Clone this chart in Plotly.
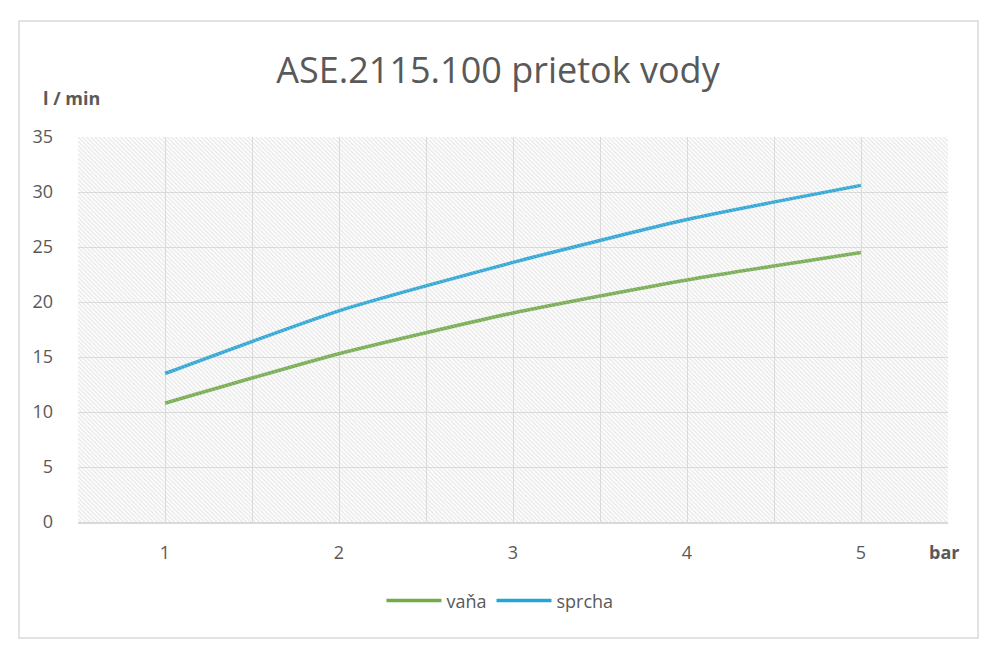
import plotly.graph_objects as go

# data
pressure = [1, 2, 3, 4, 5]           # bar
vana = [10.8, 15.3, 19.0, 22.0, 24.5]    # l / min
sprcha = [13.5, 19.2, 23.6, 27.5, 30.6]  # l / min

title_text = "ASE.2115.100 prietok vody"
y_title = "l / min"
x_title = "bar"

font_name = "Open Sans"
text_grey = "#595959"
grid_grey = "#dedede"

fig = go.Figure()

# hatched plot-area background (Excel pattern fill), on a hidden 0..1 axis pair
fig.add_trace(go.Scatter(
    x=[0, 1, 1, 0, 0], y=[0, 0, 1, 1, 0],
    xaxis="x2", yaxis="y2",
    mode="lines", line=dict(width=0),
    fill="toself", fillcolor="rgba(0,0,0,0)",
    fillpattern=dict(shape="\\", fgcolor="#cccccc", bgcolor="rgba(0,0,0,0)",
                     size=3, solidity=0.4),
    hoverinfo="skip", showlegend=False,
))

fig.add_trace(go.Scatter(
    x=pressure, y=vana, name="vaňa", mode="lines",
    line=dict(color="#70AD47", width=3.5, shape="spline", smoothing=0.6),
))
fig.add_trace(go.Scatter(
    x=pressure, y=sprcha, name="sprcha", mode="lines",
    line=dict(color="#21A6DA", width=3.5, shape="spline", smoothing=0.6),
))

fig.update_layout(
    width=1000, height=658,
    margin=dict(l=78, r=52, t=137, b=136),
    paper_bgcolor="white", plot_bgcolor="white",
    font=dict(family=font_name, color=text_grey, size=18),
    title=dict(text=title_text, x=0.498, xanchor="center",
               y=1 - 70 / 658, yanchor="middle",
               font=dict(size=36, color=text_grey)),
    xaxis=dict(
        range=[0.5, 5.5], tickvals=pressure, showgrid=True, gridcolor=grid_grey,
        minor=dict(tick0=0.5, dtick=1, showgrid=True, gridcolor=grid_grey),
        showline=True, linecolor="#d9d9d9", linewidth=1.5,
        zeroline=False, ticks="", ticklabelstandoff=14,
        tickfont=dict(size=18, color=text_grey),
    ),
    yaxis=dict(
        range=[0, 35], dtick=5, showgrid=True, gridcolor=grid_grey,
        zeroline=False, ticks="", ticklabelstandoff=24,
        tickfont=dict(size=18, color=text_grey),
    ),
    xaxis2=dict(range=[0, 1], overlaying="x", visible=False, fixedrange=True),
    yaxis2=dict(range=[0, 1], overlaying="y", visible=False, fixedrange=True),
    legend=dict(orientation="h", x=0.485, xanchor="center", y=-0.205,
                yanchor="middle", itemwidth=55,
                font=dict(size=18, color=text_grey)),
    showlegend=True,
)

# axis titles placed like the Excel chart
fig.add_annotation(text="<b>" + y_title + "</b>", xref="paper", yref="paper",
                   x=-0.007, y=1.101, xanchor="center", yanchor="middle",
                   showarrow=False, font=dict(size=18, color=text_grey))
fig.add_annotation(text="<b>" + x_title + "</b>", xref="paper", yref="paper",
                   x=0.995, y=-0.078, xanchor="center", yanchor="middle",
                   showarrow=False, font=dict(size=18, color=text_grey))

# chart-area border
fig.add_shape(type="rect", xref="paper", yref="paper",
              x0=-0.0678, x1=1.0345, y0=-0.3013, y1=1.3013,
              line=dict(color="#d9d9d9", width=1.5), layer="below")

# drop the default 8px page margin so the figure sits at the window origin
fig.write_html("out.html", config=dict(displayModeBar=False),
               post_script="document.body.style.margin='0';")
